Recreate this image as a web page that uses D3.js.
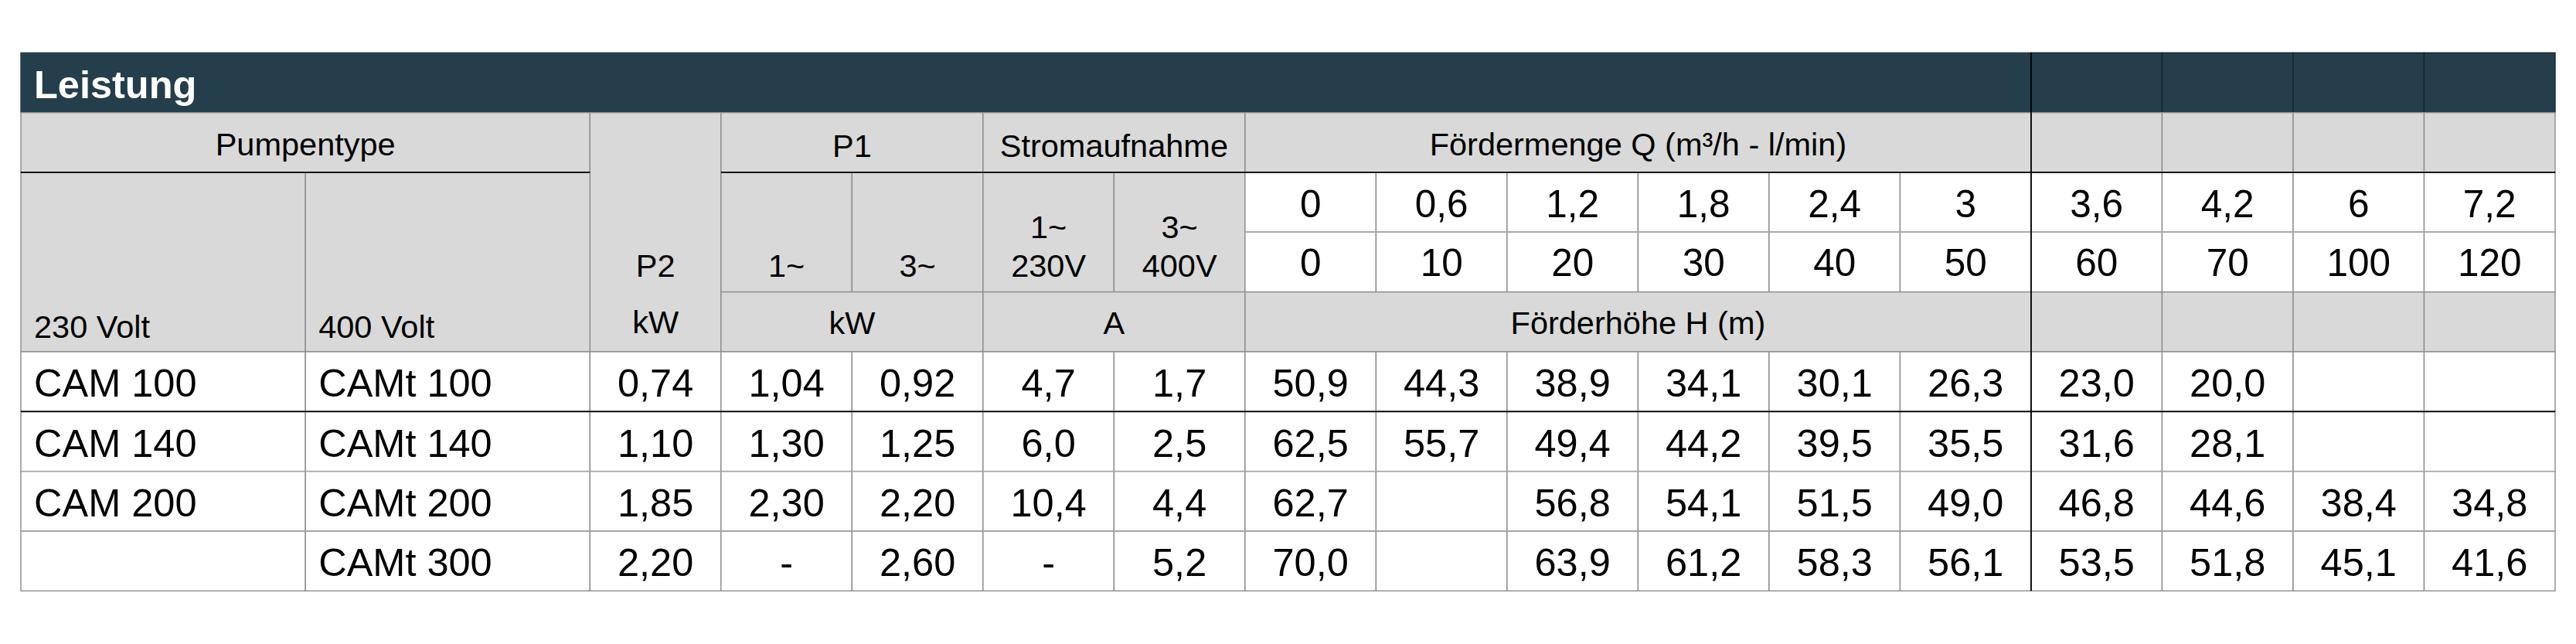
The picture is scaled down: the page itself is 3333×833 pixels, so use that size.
<!DOCTYPE html>
<html>
<head>
<meta charset="utf-8">
<script src="https://cdn.jsdelivr.net/npm/d3@7"></script>
<style>
  html, body { margin: 0; padding: 0; background: #fff; }
  svg text { font-family: "Liberation Sans", Arial, sans-serif; }
</style>
</head>
<body>
<div id="chart"></div>
<script>
// Werte der Tabelle
const title = "Leistung";
const models230 = ["CAM 100", "CAM 140", "CAM 200", ""];
const models400 = ["CAMt 100", "CAMt 140", "CAMt 200", "CAMt 300"];
const p2 = [0.74, 1.10, 1.85, 2.20];
const p1Single = [1.04, 1.30, 2.30, null];   // null -> "-"
const p1Three = [0.92, 1.25, 2.20, 2.60];
const ampSingle = [4.7, 6.0, 10.4, null];    // null -> "-"
const ampThree = [1.7, 2.5, 4.4, 5.2];
const flowM3h = [0, 0.6, 1.2, 1.8, 2.4, 3, 3.6, 4.2, 6, 7.2];
const flowLmin = [0, 10, 20, 30, 40, 50, 60, 70, 100, 120];
const heads = [
  [50.9, 44.3, 38.9, 34.1, 30.1, 26.3, 23.0, 20.0, null, null],
  [62.5, 55.7, 49.4, 44.2, 39.5, 35.5, 31.6, 28.1, null, null],
  [62.7, null, 56.8, 54.1, 51.5, 49.0, 46.8, 44.6, 38.4, 34.8],
  [70.0, null, 63.9, 61.2, 58.3, 56.1, 53.5, 51.8, 45.1, 41.6]
];

const W = 3333, H = 833;
const DARK = "#243e4b", GREY = "#d9d9d9";
const HEAD = 41.5, BODY = 50.5;

const de = d3.formatLocale({decimal: ",", thousands: ".", grouping: [3], currency: ["", " €"]});
const f2 = de.format(".2f"), f1 = de.format(".1f"), fq = de.format("~g");

// Spalten: 2 breite Typ-Spalten, dann 15 gleich breite
const colUnits = [2.172, 2.172].concat(d3.range(15).map(() => 1));
const edges = [0, ...d3.cumsum(colUnits)];
const x = d3.scaleLinear().domain([0, edges[edges.length - 1]]).range([27, 3306]);
const y = d3.scaleBand().domain(d3.range(9)).range([68.3, 764.3]);
const rh = y.bandwidth();

const svg = d3.select("#chart").append("svg")
  .attr("width", W).attr("height", H)
  .attr("viewBox", `0 0 ${W} ${H}`);

// Zellen aufbauen
const cells = [];
function cell(c, cs, r, rs, fill, texts, align, stroke) {
  cells.push({c, cs, r, rs, fill, texts: texts || [], align: align || "middle", stroke: stroke || "#8c8c8c"});
}

// Titelzeile
cell(0, 13, 0, 1, DARK, [{t: title, base: 58.4, size: BODY, bold: true, color: "#fff"}], "start", DARK);
for (let c = 13; c < 17; c++) cell(c, 1, 0, 1, DARK, [], "middle", "#15262f");

// Kopfzeile 1
cell(0, 2, 1, 1, GREY, [{t: "Pumpentype", base: 55.5, size: HEAD}]);
cell(2, 1, 1, 4, GREY, [{t: "P2", base: rh * 2 + 58, size: HEAD}, {t: "kW", base: rh * 3 + 53.5, size: HEAD}]);
cell(3, 2, 1, 1, GREY, [{t: "P1", base: 57, size: HEAD}]);
cell(5, 2, 1, 1, GREY, [{t: "Stromaufnahme", base: 57, size: HEAD}]);
cell(7, 6, 1, 1, GREY, [{t: "Fördermenge Q (m³/h - l/min)", base: 55.5, size: HEAD}]);
for (let c = 13; c < 17; c++) cell(c, 1, 1, 1, GREY);

// Kopfzeilen 2-4
cell(0, 1, 2, 3, GREY, [{t: "230 Volt", base: rh * 2 + 59, size: HEAD}], "start");
cell(1, 1, 2, 3, GREY, [{t: "400 Volt", base: rh * 2 + 59, size: HEAD}], "start");
cell(3, 1, 2, 2, GREY, [{t: "1~", base: rh + 58, size: HEAD}]);
cell(4, 1, 2, 2, GREY, [{t: "3~", base: rh + 58, size: HEAD}]);
cell(5, 1, 2, 2, GREY, [{t: "1~", base: 85, size: HEAD}, {t: "230V", base: rh + 58, size: HEAD}]);
cell(6, 1, 2, 2, GREY, [{t: "3~", base: 85, size: HEAD}, {t: "400V", base: rh + 58, size: HEAD}]);
flowM3h.forEach((q, j) => cell(7 + j, 1, 2, 1, "#fff", [{t: fq(q), base: 58.5, size: BODY - 1}]));
flowLmin.forEach((q, j) => cell(7 + j, 1, 3, 1, "#fff", [{t: fq(q), base: 57, size: BODY - 1}]));
cell(3, 2, 4, 1, GREY, [{t: "kW", base: 54, size: HEAD}]);
cell(5, 2, 4, 1, GREY, [{t: "A", base: 54, size: HEAD}]);
cell(7, 6, 4, 1, GREY, [{t: "Förderhöhe H (m)", base: 54, size: HEAD}]);
for (let c = 13; c < 17; c++) cell(c, 1, 4, 1, GREY);

// Datenzeilen
models400.forEach((m, i) => {
  const r = 5 + i;
  const txt = s => [{t: s, base: 58.5, size: BODY}];
  cell(0, 1, r, 1, "#fff", txt(models230[i]), "start");
  cell(1, 1, r, 1, "#fff", txt(m), "start");
  cell(2, 1, r, 1, "#fff", txt(f2(p2[i])));
  cell(3, 1, r, 1, "#fff", txt(p1Single[i] == null ? "-" : f2(p1Single[i])));
  cell(4, 1, r, 1, "#fff", txt(f2(p1Three[i])));
  cell(5, 1, r, 1, "#fff", txt(ampSingle[i] == null ? "-" : f1(ampSingle[i])));
  cell(6, 1, r, 1, "#fff", txt(f1(ampThree[i])));
  heads[i].forEach((h, j) => cell(7 + j, 1, r, 1, "#fff", txt(h == null ? "" : f1(h))));
});

const cellLeft = d => x(edges[d.c]);
const cellRight = d => x(edges[d.c + d.cs]);
const cellTop = d => y(d.r);

const g = svg.append("g").selectAll("g").data(cells).join("g");

g.append("rect")
  .attr("x", cellLeft).attr("y", cellTop)
  .attr("width", d => cellRight(d) - cellLeft(d))
  .attr("height", d => rh * d.rs)
  .attr("fill", d => d.fill)
  .attr("stroke", d => d.stroke)
  .attr("stroke-width", 1.4);

g.selectAll("text")
  .data(d => d.texts.map(t => Object.assign({cell: d}, t)))
  .join("text")
  .attr("x", t => t.cell.align === "start" ? cellLeft(t.cell) + 17 : (cellLeft(t.cell) + cellRight(t.cell)) / 2)
  .attr("y", t => cellTop(t.cell) + t.base)
  .attr("text-anchor", t => t.cell.align)
  .attr("font-size", t => t.size)
  .attr("font-weight", t => t.bold ? "bold" : "normal")
  .attr("fill", t => t.color || "#000")
  .text(t => t.t);

// kräftigere und hellere Linien
const lines = svg.append("g");
const hline = (c0, c1, r, color, w) => lines.append("line")
  .attr("x1", x(edges[c0])).attr("x2", x(edges[c1]))
  .attr("y1", y(r)).attr("y2", y(r))
  .attr("stroke", color).attr("stroke-width", w);

hline(0, 2, 2, "#000", 1.8);
hline(3, 17, 2, "#000", 1.8);
hline(0, 17, 6, "#000", 1.8);
hline(7, 17, 3, "#a6a6a6", 1.4);
hline(0, 17, 7, "#a6a6a6", 1.4);
hline(0, 17, 8, "#a6a6a6", 1.4);

lines.append("line")
  .attr("x1", x(edges[13])).attr("x2", x(edges[13]))
  .attr("y1", y(0)).attr("y2", y(8) + rh)
  .attr("stroke", "#000").attr("stroke-width", 1.8);
</script>
</body>
</html>
